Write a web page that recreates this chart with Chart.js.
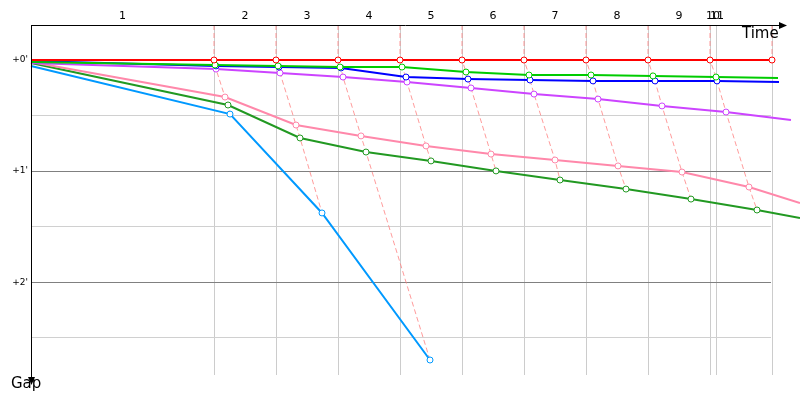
<!DOCTYPE html>
<html>
<head>
<meta charset="utf-8">
<script src="https://cdn.jsdelivr.net/npm/chart.js@4"></script>
<style>
  html, body { margin: 0; padding: 0; background: #fff; }
  #wrap { width: 800px; height: 400px; }
</style>
</head>
<body>
<div id="wrap"><canvas id="chart"></canvas></div>
<script>
// time in seconds, gap in seconds behind leader
const lapTimes = [91.5, 122.5, 153.5, 184.5, 215.5, 246.5, 277.5, 308.5, 339.5, 342.5, 370.5];
const lapLabels = ['1', '2', '3', '4', '5', '6', '7', '8', '9', '10', '11'];
const gapTicks = [0, 30, 60, 90, 120, 150];

const redTime = [0, 91.5, 122.5, 153.5, 184.5, 215.5, 246.5, 277.5, 308.5, 339.5, 370.5, 384.5];
const redGap = [0, 0, 0, 0, 0, 0, 0, 0, 0, 0, 0, 0];
const greenTime = [0, 92, 123.5, 154.5, 185.5, 217.5, 249, 280, 311, 342.5, 373.5, 384.5];
const greenGap = [1.1, 2.7, 3.2, 3.8, 3.8, 6.5, 8.1, 8.1, 8.6, 9.2, 9.7, 9.7];
const blueTime = [0, 92.5, 124, 155, 187.5, 218.5, 249.5, 281, 312, 343, 374, 384.5];
const blueGap = [0.5, 3.2, 3.8, 4.3, 9.2, 10.3, 10.8, 11.3, 11.3, 11.3, 11.9, 12.4];
const purpleTime = [0, 92.5, 124.5, 156, 188, 220, 251.5, 283.5, 315.5, 347.5, 380, 384.5];
const purpleGap = [1.6, 4.9, 7.0, 9.2, 11.9, 15.1, 18.4, 21.1, 24.8, 28.1, 32.4, 32.7];
const pinkTime = [0, 97, 132.5, 165, 197.5, 230, 262, 293.5, 325.5, 359, 384.5];
const pinkGap = [1.1, 20.0, 35.1, 41.0, 46.4, 50.8, 54.0, 57.2, 60.5, 68.6, 77.2];
const dkGreenTime = [0, 98.5, 134.5, 167.5, 200, 232.5, 264.5, 297.5, 330, 363, 384.5];
const dkGreenGap = [1.6, 24.3, 42.1, 49.7, 54.5, 59.9, 64.8, 69.7, 75.1, 81.0, 85.3];
const ltBlueTime = [0, 99.5, 145.5, 199.5];
const ltBlueGap = [3.2, 29.2, 82.6, 162];

const X_END = 370;
const Y_MIN = -18.9, Y_MAX = 170.1;

const drivers = [
    { color: '#ff0000', t: redTime, g: redGap },
    { color: '#00cc00', t: greenTime, g: greenGap },
    { color: '#0000ff', t: blueTime, g: blueGap },
    { color: '#cc44ff', t: purpleTime, g: purpleGap },
    { color: '#ff88aa', t: pinkTime, g: pinkGap },
    { color: '#229922', t: dkGreenTime, g: dkGreenGap },
    { color: '#0099ff', t: ltBlueTime, g: ltBlueGap }
];

const datasets = [];
drivers.forEach(d => {
    const pts = d.t.map((t, i) => ({ x: t, y: d.g[i] }));
    datasets.push({
        data: pts,
        borderColor: d.color,
        borderWidth: 2,
        backgroundColor: '#ffffff',
        pointBorderColor: d.color,
        pointBorderWidth: 1,
        pointRadius: ctx => (ctx.dataIndex === 0 || pts[ctx.dataIndex].x > X_END + 5) ? 0 : 3,
        clip: false,
        order: 1
    });
});

// dashed connectors joining every driver's point for the same lap
for (let k = 1; k <= 10; k++) {
    const pts = [{ x: redTime[k], y: Y_MIN }];
    drivers.forEach(d => {
        if (k < d.t.length && d.t[k] <= X_END + 5) pts.push({ x: d.t[k], y: d.g[k] });
    });
    pts.sort((a, b) => a.y - b.y);
    datasets.push({
        data: pts,
        borderColor: 'rgba(255,130,130,0.8)',
        borderWidth: 1,
        borderDash: [5, 3],
        pointRadius: 0,
        clip: false,
        order: 5
    });
}

const axisArrows = {
    id: 'axisArrows',
    afterDraw(chart) {
        const c = chart.ctx, a = chart.chartArea;
        c.save();
        c.strokeStyle = '#000';
        c.fillStyle = '#000';
        c.lineWidth = 1;
        c.beginPath();
        c.moveTo(a.left, a.top + 0.5);
        c.lineTo(780, a.top + 0.5);
        c.moveTo(a.left + 0.5, a.top);
        c.lineTo(a.left + 0.5, a.bottom + 3);
        c.stroke();
        c.beginPath();
        c.moveTo(779, a.top - 3); c.lineTo(787, a.top + 0.5); c.lineTo(779, a.top + 4);
        c.fill();
        c.beginPath();
        c.moveTo(a.left - 3, a.bottom + 2); c.lineTo(a.left + 0.5, a.bottom + 10); c.lineTo(a.left + 4, a.bottom + 2);
        c.fill();
        c.font = '15px "DejaVu Sans"';
        c.textBaseline = 'top';
        c.fillText('Time', 742, 27);
        c.fillText('Gap', 11, 377);
        c.restore();
    }
};

new Chart(document.getElementById('chart'), {
    type: 'line',
    data: { datasets },
    options: {
        responsive: true,
        maintainAspectRatio: false,
        animation: false,
        layout: { padding: { right: 29, bottom: 25 } },
        plugins: { legend: { display: false }, tooltip: { enabled: false } },
        scales: {
            x: {
                type: 'linear', min: 0, max: X_END,
                afterBuildTicks: s => { s.ticks = lapTimes.map(v => ({ value: v })); },
                grid: { color: '#cccccc', drawTicks: false },
                border: { display: false },
                ticks: { display: false },
                afterFit: s => { s.height = 0; }
            },
            top: {
                type: 'linear', position: 'top', min: 0, max: X_END,
                afterBuildTicks: s => {
                    s.ticks = lapTimes.map((v, i) => ({ value: ((i === 0 ? 0 : lapTimes[i - 1]) + v) / 2 }));
                    s.ticks[9].value = 341; s.ticks[10].value = 343;
                },
                grid: { display: false, drawTicks: false },
                border: { display: false },
                ticks: {
                    color: '#000', font: { family: 'DejaVu Sans', size: 11 }, padding: 2, maxRotation: 0,
                    callback: (v, i) => lapLabels[i]
                },
                afterFit: s => { s.height = 25; }
            },
            y: {
                type: 'linear', reverse: true, min: Y_MIN, max: Y_MAX,
                afterBuildTicks: s => { s.ticks = gapTicks.map(v => ({ value: v })); },
                grid: {
                    drawTicks: false,
                    color: ctx => (ctx.tick && ctx.tick.value % 60 === 0 && ctx.tick.value > 0) ? '#808080' : (ctx.tick && ctx.tick.value === 0 ? 'rgba(0,0,0,0)' : '#d0d0d0')
                },
                border: { display: false },
                ticks: {
                    color: '#000', font: { family: 'DejaVu Sans', size: 9 }, padding: 3,
                    callback: v => v % 60 === 0 ? "+" + (v / 60) + "'" : ''
                },
                afterFit: s => { s.width = 31; }
            }
        }
    },
    plugins: [axisArrows]
});
</script>
</body>
</html>
